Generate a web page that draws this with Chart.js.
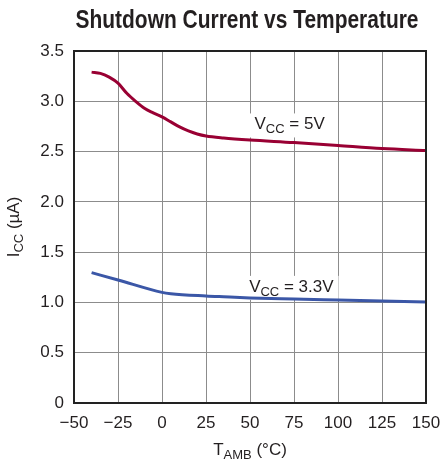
<!DOCTYPE html>
<html>
<head>
<meta charset="utf-8">
<script src="https://cdn.jsdelivr.net/npm/chart.js@4.4.1/dist/chart.umd.min.js"></script>
<style>
  html, body { margin: 0; padding: 0; background: #fff; }
  #wrap { width: 441px; height: 466px; position: relative; }
</style>
</head>
<body>
<div id="wrap"><canvas id="chart"></canvas></div>
<script>
// Chart data
const chartTitle = 'Shutdown Current vs Temperature';

const temp5V = [-40, -35, -30, -25, -20, -15, -10, -5, 0, 5, 10, 15, 20, 25, 35, 50, 75, 100, 125, 150];
const icc5V  = [3.29, 3.278, 3.24, 3.18, 3.08, 3.00, 2.93, 2.885, 2.845, 2.795, 2.745, 2.705, 2.675, 2.655, 2.635, 2.615, 2.59, 2.56, 2.53, 2.51];

const temp3V3 = [-40, -25, 0, 5, 25, 35, 50, 75, 100, 125, 150];
const icc3V3  = [1.296, 1.223, 1.10, 1.087, 1.064, 1.056, 1.045, 1.034, 1.024, 1.014, 1.004];

const xMin = -50, xMax = 150, xStep = 25;
const yMin = 0, yMax = 3.5, yStep = 0.5;

// curve labels: [main, subscript, rest], anchored at a data position
const curveLabels = [
  { parts: ['V', 'CC', ' = 5V'], x: 72.5, y: 2.72 },
  { parts: ['V', 'CC', ' = 3.3V'], x: 73.5, y: 1.105 }
];

const FONT = '"Liberation Sans", Arial, sans-serif';
const RED = '#990033';
const BLUE = '#3b57a7';
const INK = '#231f20';

function toPoints(xs, ys) {
  return xs.map((x, i) => ({ x: x, y: ys[i] }));
}

// width of text with a subscript part
function measureSub(ctx, parts, size) {
  ctx.font = size + 'px ' + FONT;
  let w = ctx.measureText(parts[0]).width + ctx.measureText(parts[2]).width;
  ctx.font = Math.round(size * 0.76) + 'px ' + FONT;
  w += ctx.measureText(parts[1]).width;
  return w;
}

function drawSub(ctx, parts, x, y, size) {
  const subSize = Math.round(size * 0.76);
  ctx.textAlign = 'left';
  ctx.textBaseline = 'alphabetic';
  ctx.font = size + 'px ' + FONT;
  ctx.fillText(parts[0], x, y);
  x += ctx.measureText(parts[0]).width;
  ctx.font = subSize + 'px ' + FONT;
  ctx.fillText(parts[1], x, y + 4);
  x += ctx.measureText(parts[1]).width;
  ctx.font = size + 'px ' + FONT;
  ctx.fillText(parts[2], x, y);
}

const decorPlugin = {
  id: 'decor',
  beforeDatasetsDraw(chart) {
    const ctx = chart.ctx;
    const xs = chart.scales.x, ys = chart.scales.y;
    ctx.save();
    ctx.fillStyle = '#fff';
    curveLabels.forEach(l => {
      const w = measureSub(ctx, l.parts, 17);
      const cx = xs.getPixelForValue(l.x);
      const by = ys.getPixelForValue(l.y);
      ctx.fillRect(cx - w / 2 - 5, by - 16, w + 10, 24);
    });
    ctx.restore();
  },
  afterDraw(chart) {
    const ctx = chart.ctx;
    const a = chart.chartArea;
    const xs = chart.scales.x, ys = chart.scales.y;
    ctx.save();
    // full frame
    ctx.strokeStyle = '#222';
    ctx.lineWidth = 2;
    ctx.strokeRect(a.left, a.top, a.right - a.left, a.bottom - a.top);

    ctx.fillStyle = INK;
    // title, squeezed to the condensed width of the original
    ctx.font = 'bold 25px ' + FONT;
    ctx.textAlign = 'center';
    ctx.textBaseline = 'alphabetic';
    const tw = ctx.measureText(chartTitle).width;
    const sx = 343 / tw;
    ctx.save();
    ctx.translate(247, 28);
    ctx.scale(sx, 1);
    ctx.fillText(chartTitle, 0, 0);
    ctx.restore();

    // curve labels
    curveLabels.forEach(l => {
      const w = measureSub(ctx, l.parts, 17);
      const cx = xs.getPixelForValue(l.x);
      const by = ys.getPixelForValue(l.y);
      drawSub(ctx, l.parts, cx - w / 2, by, 17);
    });

    // x axis title
    const xt = ['T', 'AMB', ' (°C)'];
    const xw = measureSub(ctx, xt, 17);
    drawSub(ctx, xt, (a.left + a.right) / 2 - xw / 2, 455, 17);

    // y axis title
    const yt = ['I', 'CC', ' (µA)'];
    const yw = measureSub(ctx, yt, 17);
    ctx.translate(19, (a.top + a.bottom) / 2);
    ctx.rotate(-Math.PI / 2);
    drawSub(ctx, yt, -yw / 2, 0, 17);
    ctx.restore();
  }
};

const ctx = document.getElementById('chart').getContext('2d');
const chart = new Chart(ctx, {
  type: 'line',
  data: {
    datasets: [
      {
        label: 'VCC = 5V',
        data: toPoints(temp5V, icc5V),
        borderColor: RED,
        borderWidth: 3,
        pointRadius: 0,
        cubicInterpolationMode: 'monotone',
        fill: false
      },
      {
        label: 'VCC = 3.3V',
        data: toPoints(temp3V3, icc3V3),
        borderColor: BLUE,
        borderWidth: 3,
        pointRadius: 0,
        cubicInterpolationMode: 'monotone',
        fill: false
      }
    ]
  },
  options: {
    responsive: true,
    maintainAspectRatio: false,
    animation: false,
    layout: { padding: { left: 0, right: 15, top: 51, bottom: 0 } },
    plugins: {
      legend: { display: false },
      title: { display: false },
      tooltip: { enabled: false }
    },
    scales: {
      x: {
        type: 'linear',
        min: xMin,
        max: xMax,
        afterFit: (s) => { s.height = 63; s.paddingLeft = 0; s.paddingRight = 0; },
        grid: { color: '#8c8c8c', lineWidth: 1, drawTicks: false },
        border: { display: true, color: '#222', width: 2 },
        ticks: {
          stepSize: xStep,
          padding: 10,
          color: INK,
          font: { family: FONT, size: 17 },
          maxRotation: 0,
          callback: (v) => (v < 0 ? '\u2212' + Math.abs(v) : String(v))
        }
      },
      y: {
        min: yMin,
        max: yMax,
        afterFit: (s) => { s.width = 74; s.paddingTop = 0; s.paddingBottom = 0; },
        grid: { color: '#8c8c8c', lineWidth: 1, drawTicks: false },
        border: { display: true, color: '#222', width: 2 },
        ticks: {
          stepSize: yStep,
          padding: 10,
          color: INK,
          font: { family: FONT, size: 17 },
          callback: (v) => (v === 0 ? '0' : v.toFixed(1))
        }
      }
    }
  },
  plugins: [decorPlugin]
});
</script>
</body>
</html>
